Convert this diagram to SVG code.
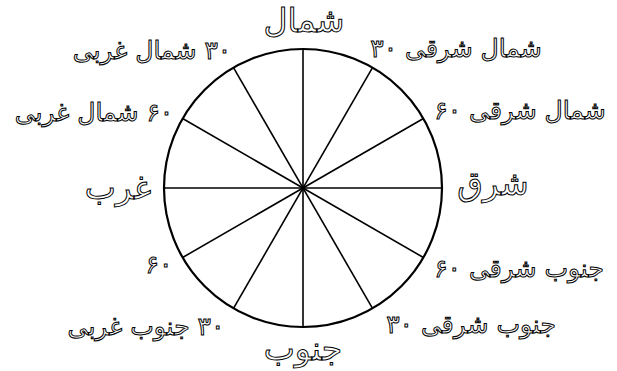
<svg xmlns="http://www.w3.org/2000/svg" width="617" height="371" viewBox="0 0 617 371">
<style>
.lbl{font-family:"DejaVu Sans","Noto Sans",sans-serif;font-size:25px;fill:#fff;stroke:#000;stroke-width:1;direction:rtl;text-anchor:middle}
.big{font-size:33px}
.spoke{stroke:#000;stroke-width:1.6}
</style>
<rect width="617" height="371" fill="#fff"/>
<g id="connectors">
<line class="spoke" x1="303" y1="49" x2="303" y2="327"/>
<line class="spoke" x1="164" y1="188" x2="442" y2="188"/>
<line class="spoke" x1="372.5" y1="67.6" x2="233.5" y2="308.4"/>
<line class="spoke" x1="423.4" y1="118.5" x2="182.6" y2="257.5"/>
<line class="spoke" x1="423.4" y1="257.5" x2="182.6" y2="118.5"/>
<line class="spoke" x1="372.5" y1="308.4" x2="233.5" y2="67.6"/>
</g>
<g id="circle"><circle cx="303" cy="188" r="139" fill="none" stroke="#000" stroke-width="2.2"/></g>
<g id="n"><text class="lbl big" x="304" y="32">شمال</text></g>
<g id="nw30"><text class="lbl" x="152" y="59">۳۰ شمال غربی</text></g>
<g id="ne30"><text class="lbl" x="456" y="57">شمال شرقی ۳۰</text></g>
<g id="ne60"><text class="lbl" x="520" y="119">شمال شرقی ۶۰</text></g>
<g id="nw60"><text class="lbl" x="94" y="121">۶۰ شمال غربی</text></g>
<g id="w"><text class="lbl big" x="118" y="199">غرب</text></g>
<g id="e"><text class="lbl big" x="493" y="195">شرق</text></g>
<g id="se60"><text class="lbl" x="519" y="277">جنوب شرقی ۶۰</text></g>
<g id="sw60"><text class="lbl" x="159" y="273">۶۰</text></g>
<g id="sw30"><text class="lbl" x="146" y="335">۳۰ جنوب غربی</text></g>
<g id="se30"><text class="lbl" x="471" y="333">جنوب شرقی ۳۰</text></g>
<g id="s"><text class="lbl big" x="303" y="360">جنوب</text></g>
</svg>
